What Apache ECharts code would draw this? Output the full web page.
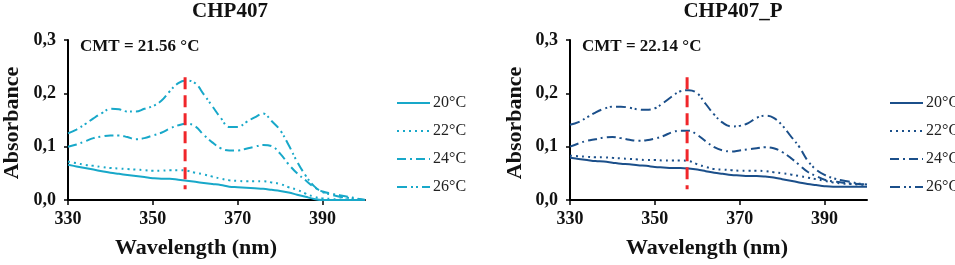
<!DOCTYPE html>
<html>
<head>
<meta charset="utf-8">
<script src="https://cdn.jsdelivr.net/npm/echarts@6/dist/echarts.min.js"></script>
<style>
  html, body { margin: 0; padding: 0; background: #fff; }
  #main { width: 955px; height: 265px; }
</style>
</head>
<body>
<div id="main"></div>
<script>
// wavelength grid (nm)
var wavelengths = [330, 332, 334, 336, 338, 340, 342, 344, 346, 348, 350, 352, 354, 356, 358, 360, 362, 364,
    366, 368, 370, 372, 374, 376, 378, 380, 382, 384, 386, 388, 390, 392, 394, 396, 398, 400];
var tempNames = ['20°C', '22°C', '24°C', '26°C'];
var xTicks = [330, 350, 370, 390];
var panelTitles = ['CHP407', 'CHP407_P'];
var cmtLabels = ['CMT = 21.56 °C', 'CMT = 22.14 °C'];
var cmtWave = [357.6, 357.6];
var cmtLine = [0.23, 0.02];

// CHP407
var chp20 = [0.066, 0.063, 0.060, 0.057, 0.054, 0.051, 0.049, 0.047, 0.045, 0.043, 0.041, 0.040, 0.040, 0.038, 0.036, 0.034, 0.032, 0.030,
    0.028, 0.025, 0.024, 0.023, 0.022, 0.021, 0.019, 0.017, 0.014, 0.010, 0.006, 0.002, 0.000, 0.000, 0.000, 0.000, 0.000, 0.000];
var chp22 = [0.072, 0.069, 0.066, 0.064, 0.062, 0.060, 0.059, 0.058, 0.057, 0.056, 0.055, 0.055, 0.056, 0.056, 0.055, 0.051, 0.048, 0.044,
    0.040, 0.037, 0.036, 0.035, 0.035, 0.035, 0.033, 0.030, 0.024, 0.019, 0.012, 0.006, 0.003, 0.002, 0.001, 0.001, 0.001, 0.000];
var chp24 = [0.100, 0.104, 0.110, 0.116, 0.119, 0.121, 0.121, 0.118, 0.114, 0.116, 0.121, 0.126, 0.134, 0.140, 0.143, 0.138, 0.122, 0.108,
    0.097, 0.093, 0.093, 0.096, 0.100, 0.103, 0.101, 0.087, 0.067, 0.050, 0.037, 0.024, 0.016, 0.012, 0.009, 0.006, 0.003, 0.000];
var chp26 = [0.125, 0.132, 0.142, 0.153, 0.163, 0.171, 0.170, 0.166, 0.166, 0.171, 0.176, 0.186, 0.204, 0.219, 0.224, 0.219, 0.198, 0.176,
    0.154, 0.137, 0.137, 0.146, 0.155, 0.162, 0.148, 0.131, 0.103, 0.072, 0.046, 0.026, 0.015, 0.010, 0.006, 0.004, 0.002, 0.000];

// CHP407_P
var chpP20 = [0.079, 0.077, 0.075, 0.073, 0.072, 0.070, 0.068, 0.067, 0.065, 0.064, 0.062, 0.061, 0.060, 0.060, 0.059, 0.057, 0.054, 0.051,
    0.049, 0.047, 0.046, 0.045, 0.045, 0.044, 0.042, 0.039, 0.036, 0.033, 0.030, 0.028, 0.026, 0.025, 0.025, 0.025, 0.025, 0.025];
var chpP22 = [0.083, 0.082, 0.081, 0.080, 0.080, 0.079, 0.078, 0.077, 0.076, 0.075, 0.075, 0.074, 0.074, 0.074, 0.073, 0.067, 0.062, 0.058,
    0.057, 0.056, 0.055, 0.055, 0.055, 0.054, 0.052, 0.050, 0.048, 0.045, 0.042, 0.039, 0.036, 0.033, 0.031, 0.030, 0.029, 0.028];
var chpP24 = [0.100, 0.106, 0.111, 0.114, 0.117, 0.118, 0.116, 0.113, 0.111, 0.112, 0.115, 0.120, 0.127, 0.130, 0.130, 0.122, 0.110, 0.099,
    0.093, 0.091, 0.093, 0.095, 0.097, 0.099, 0.097, 0.090, 0.079, 0.066, 0.053, 0.045, 0.038, 0.035, 0.033, 0.031, 0.030, 0.029];
var chpP26 = [0.141, 0.146, 0.155, 0.164, 0.171, 0.175, 0.175, 0.173, 0.170, 0.169, 0.172, 0.182, 0.194, 0.204, 0.206, 0.200, 0.180, 0.160,
    0.145, 0.138, 0.139, 0.144, 0.154, 0.158, 0.154, 0.140, 0.120, 0.100, 0.074, 0.057, 0.047, 0.041, 0.037, 0.034, 0.031, 0.029];

var panels = [[chp20, chp22, chp24, chp26], [chpP20, chpP22, chpP24, chpP26]];
var colors = ['#18a8c9', '#1b4f8a'];
var dashes = ['solid', [2, 4], [9, 4, 2, 4], [10, 4, 2, 3, 2, 4]];

var serif = "'Liberation Serif', 'Times New Roman', serif";
var gridLeft = [68, 570];
var gridWidth = 297;

var chart = echarts.init(document.getElementById('main'));

function pairs(vals) {
    var out = [];
    for (var i = 0; i < wavelengths.length; i++) out.push([wavelengths[i], vals[i]]);
    return out;
}

var grids = [], xAxes = [], yAxes = [], series = [], legends = [], graphics = [];

var $each = function (arr, fn) { for (var i = 0; i < arr.length; i++) fn(i, arr[i]); };

$each(panels, function (p, sets) {
    grids.push({left: gridLeft[p], top: 40, width: gridWidth, height: 160});
    xAxes.push({
        type: 'value', gridIndex: p, min: 330, max: 400,
        axisLine: {lineStyle: {color: '#000', width: 2}},
        axisTick: {customValues: xTicks, length: 5, lineStyle: {color: '#000', width: 1.5}},
        axisLabel: {customValues: xTicks, color: '#111', fontFamily: serif, fontWeight: 'bold', fontSize: 18, margin: 10},
        splitLine: {show: false}
    });
    yAxes.push({
        type: 'value', gridIndex: p, min: 0, max: 0.3, interval: 0.1,
        axisLine: {show: true, lineStyle: {color: '#000', width: 2}},
        axisTick: {show: true, length: 4, lineStyle: {color: '#000', width: 1.5}},
        axisLabel: {
            color: '#111', fontFamily: serif, fontWeight: 'bold', fontSize: 18, margin: 12,
            formatter: function (v) { return v.toFixed(1).replace('.', ','); }
        },
        splitLine: {show: false}
    });
    $each(sets, function (k, vals) {
        series.push({
            name: tempNames[k] + (p ? ' ' : ''), type: 'line', xAxisIndex: p, yAxisIndex: p,
            data: pairs(vals), smooth: 0.4, symbol: 'none',
            lineStyle: {color: colors[p], width: 2, type: dashes[k]},
            itemStyle: {color: colors[p]}
        });
    });
    // CMT marker
    series.push({
        name: 'cmt' + p, type: 'line', xAxisIndex: p, yAxisIndex: p, symbol: 'none',
        data: [[cmtWave[p], cmtLine[0]], [cmtWave[p], cmtLine[1]]],
        lineStyle: {color: '#f0262a', width: 3, type: [12, 6]}
    });
    legends.push({
        data: tempNames.map(function (n) { return n + (p ? ' ' : ''); }),
        orient: 'vertical', left: p ? 884 : 391, top: 90,
        itemWidth: 33, itemHeight: 14, itemGap: 12,
        itemStyle: {opacity: 0, borderWidth: 0},
        formatter: function (n) { return n.trim(); },
        textStyle: {fontFamily: serif, fontSize: 16, color: '#222', padding: [0, 0, 0, -2]}
    });
    graphics.push({
        type: 'text', x: [230, 733][p], y: 12,
        style: {text: panelTitles[p], font: 'bold 21px ' + serif, fill: '#111', align: 'center', verticalAlign: 'middle'}
    });
    graphics.push({
        type: 'text', x: [80, 582][p], y: 47,
        style: {text: cmtLabels[p], font: 'bold 17px ' + serif, fill: '#111', align: 'left', verticalAlign: 'middle'}
    });
    graphics.push({
        type: 'text', x: [196, 707][p], y: 248,
        style: {text: 'Wavelength (nm)', font: 'bold 22px ' + serif, fill: '#111', align: 'center', verticalAlign: 'middle'}
    });
    graphics.push({
        type: 'text', x: [12, 515][p], y: 123, rotation: Math.PI / 2,
        style: {text: 'Absorbance', font: 'bold 22px ' + serif, fill: '#111', align: 'center', verticalAlign: 'middle'}
    });
});

chart.setOption({
    animation: false,
    grid: grids,
    xAxis: xAxes,
    yAxis: yAxes,
    legend: legends,
    series: series,
    graphic: graphics
});
</script>
</body>
</html>
